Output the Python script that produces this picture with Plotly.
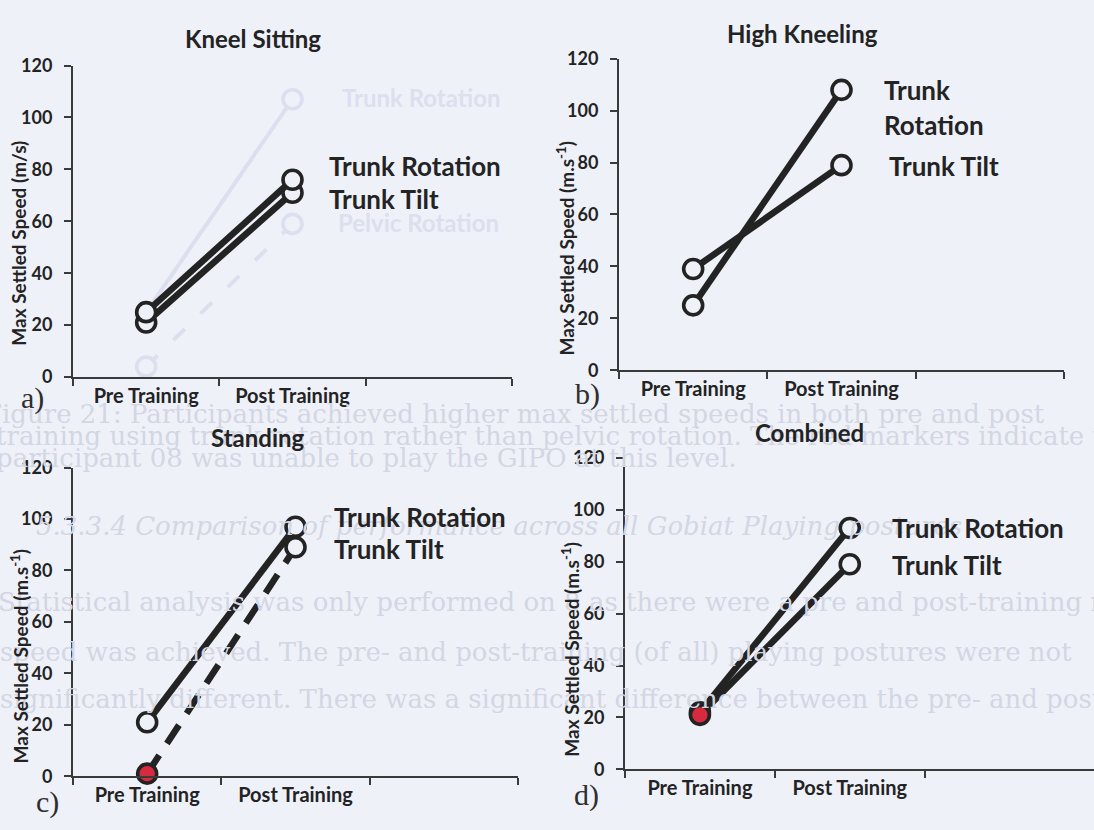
import plotly.graph_objects as go

W, H = 1094, 830

# ---- data -----------------------------------------------------------
categories = ["Pre Training", "Post Training"]
y_ticks = [0, 20, 40, 60, 80, 100, 120]

kneel_rotation = [25, 76]
kneel_tilt = [21, 71]
high_rotation = [25, 108]
high_tilt = [39, 79]
stand_rotation = [21, 97]
stand_tilt = [1, 89]
comb_rotation = [22, 93]
comb_tilt = [21, 79]

# participant unable to play at this level (pre training)
unable_stand = [True, False]
unable_comb = [True, False]

# faint show-through from the reverse page
ghost_rotation = [25, 107]
ghost_pelvic = [4, 59]
ghost_lines = [
    "Figure 21: Participants achieved higher max settled speeds in both pre and post",
    "training using trunk rotation rather than pelvic rotation. The red markers indicate that",
    "participant 08 was unable to play the GIPO at this level.",
    "5.3.3.4 Comparison of performance across all Gobiat Playing postures",
    "Statistical analysis was only performed on 8 as there were a pre and post-training max settled",
    "speed was achieved. The pre- and post-training (of all) playing postures were not",
    "significantly different. There was a significant difference between the pre- and post-training",
]

# ---- style ----------------------------------------------------------
BG = "#eff1f9"
INK = "#232323"
AX = "#3a3a3a"
GHOST = "#d3d6e3"
GHOST_PLOT = "#dcdfed"
SANS = "Lato"
RED = "#d62b3e"

xpos = [i + 0.5 for i in range(len(categories))]


def px(x):
    return x / W


def py(y):
    return 1 - y / H


fig = go.Figure()


def series(values, n, dash="solid", red=None, color=INK, width=6.5, lcolor=INK):
    mcol = [RED if (red and red[i]) else BG for i in range(len(values))]
    fig.add_trace(go.Scatter(
        x=xpos, y=values, mode="lines+markers",
        xaxis="x" + ("" if n == 1 else str(n)), yaxis="y" + ("" if n == 1 else str(n)),
        line=dict(color=color, width=width, dash=dash),
        marker=dict(size=19, color=mcol, line=dict(color=lcolor, width=3.6)),
        cliponaxis=False, showlegend=False, hoverinfo="skip",
    ))


# panel a: faint show-through first
series(ghost_rotation, 1, color=GHOST_PLOT, width=4, lcolor=GHOST_PLOT)
series(ghost_pelvic, 1, dash="16px,22px", color=GHOST_PLOT, width=4, lcolor=GHOST_PLOT)

series(kneel_tilt, 1)
series(kneel_rotation, 1)
series(high_rotation, 2)
series(high_tilt, 2)
series(stand_rotation, 3)
series(stand_tilt, 3, dash="22px,14px", red=unable_stand)
series(comb_rotation, 4)
series(comb_tilt, 4, red=unable_comb)

# axis geometry (pixels): x0, x1, ytop, ybottom, x range max, boundary ticks
panels = {
    1: (73, 512, 55, 375, 3.0, [0, 1, 2, 3]),
    2: (619, 1064, 48, 368, 3.0, [0, 1, 2, 3]),
    3: (73, 518, 468, 785, 3.0, [0, 1, 2, 3]),
    4: (625, 1094, 458, 778, 3.13, [0, 1, 2]),
}

layout = dict(
    width=W, height=H, margin=dict(l=0, r=0, t=0, b=0),
    paper_bgcolor=BG, plot_bgcolor=BG, showlegend=False,
)
for n, (x0, x1, yt, yb, xr, bticks) in panels.items():
    sfx = "" if n == 1 else str(n)
    layout["xaxis" + sfx] = dict(
        domain=[px(x0), min(px(x1), 1.0)], range=[0, xr], anchor="y" + sfx,
        showline=True, linecolor=AX, linewidth=2, showgrid=False, zeroline=False,
        tickmode="array", tickvals=xpos, ticktext=categories, ticks="",
        tickfont=dict(family=SANS, size=20, color=INK, weight="bold"),
        ticklabelstandoff=0,
        minor=dict(tickmode="array", tickvals=bticks, ticks="outside",
                   ticklen=7, tickwidth=2, tickcolor=AX, showgrid=False),
        fixedrange=True,
    )
    layout["yaxis" + sfx] = dict(
        domain=[py(yb), py(yt)], range=[0, 120], anchor="x" + sfx,
        showline=True, linecolor=AX, linewidth=2, showgrid=False, zeroline=False,
        tickmode="array", tickvals=y_ticks, ticks="outside", ticklen=7,
        tickwidth=2, tickcolor=AX,
        tickfont=dict(family=SANS, size=18, color=INK, weight="bold"),
        ticklabelstandoff=8, fixedrange=True,
    )
fig.update_layout(**layout)

ann = []


def text(x, y, s, size, color=INK, family=SANS, weight="bold", xanchor="center",
         angle=0, style="normal"):
    ann.append(dict(
        x=px(x), y=py(y), xref="paper", yref="paper", text=s, showarrow=False,
        xanchor=xanchor, yanchor="middle", textangle=angle,
        font=dict(family=family, size=size, color=color, weight=weight, style=style),
    ))


# show-through text of the reverse page
ghost_pos = [(-18, 413), (-6, 436), (-6, 458), (34, 528), (-4, 606), (-2, 657), (-2, 706)]
for (gx, gy), s in zip(ghost_pos, ghost_lines):
    text(gx, gy, s, 26, color=GHOST, family="DejaVu Serif", weight="normal",
         xanchor="left", style="italic" if s.startswith("5.3") else "normal")
text(340, 88, "Trunk Rotation", 24, color=GHOST_PLOT, xanchor="left")
text(336, 216, "Pelvic Rotation", 24, color=GHOST_PLOT, xanchor="left")

# panel titles
text(253, 27, "Kneel Sitting", 24)
text(802, 22, "High Kneeling", 24)
text(258, 437, "Standing", 24)
text(809, 432, "Combined", 24)

# y-axis titles
text(19, 238, "Max Settled Speed (m/s)", 19, angle=-90)
text(566, 243, "Max Settled Speed (m.s<sup>-1</sup>)", 19, angle=-90)
text(19, 662, "Max Settled Speed (m.s<sup>-1</sup>)", 19, angle=-90)
text(571, 655, "Max Settled Speed (m.s<sup>-1</sup>)", 19, angle=-90)

# series labels
text(327, 158, "Trunk Rotation", 26, xanchor="left")
text(327, 192, "Trunk Tilt", 26, xanchor="left")
text(882, 80, "Trunk", 26, xanchor="left")
text(882, 116, "Rotation", 26, xanchor="left")
text(887, 158, "Trunk Tilt", 26, xanchor="left")
text(332, 519, "Trunk Rotation", 26, xanchor="left")
text(332, 552, "Trunk Tilt", 26, xanchor="left")
text(890, 530, "Trunk Rotation", 26, xanchor="left")
text(890, 568, "Trunk Tilt", 26, xanchor="left")

# panel letters
for (lx, ly), s in zip([(32, 396), (587, 392), (47, 811), (586, 804)], ["a)", "b)", "c)", "d)"]):
    text(lx, ly, s, 30, color="#2e2e2e", family="Liberation Serif", weight="normal")

fig.update_layout(annotations=ann)
fig.write_html("out.html")
